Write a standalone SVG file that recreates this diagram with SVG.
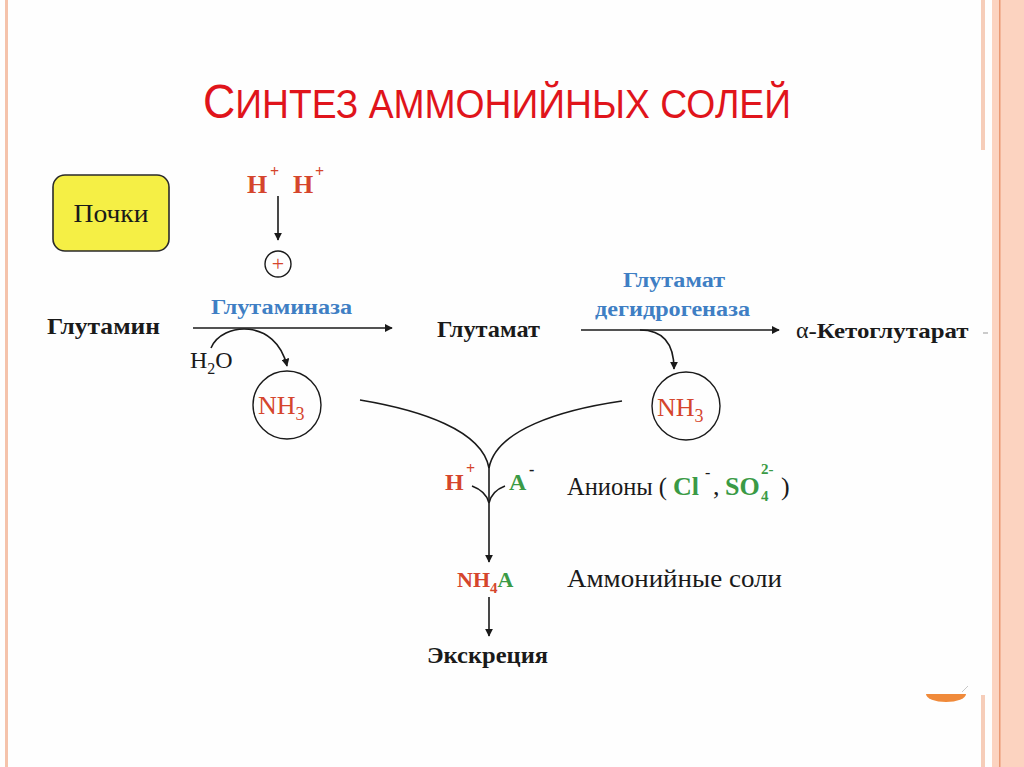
<svg xmlns="http://www.w3.org/2000/svg" width="1024" height="767" viewBox="0 0 1024 767">
<style>
.ser{font-family:"Liberation Serif","DejaVu Serif",serif}
.b{font-weight:bold}
.blk{fill:#1a1a1a}
.red{fill:#d5452c}
.blue{fill:#3f7fc4}
.grn{fill:#3a9a45}
.ln{fill:none;stroke:#1a1a1a;stroke-width:1.6}
</style>
<defs>
<marker id="ah" viewBox="0 0 10 10" refX="9" refY="5" markerWidth="8" markerHeight="8" markerUnits="userSpaceOnUse" orient="auto">
<path d="M0,0 L10,5 L0,10 z" fill="#1a1a1a"/>
</marker>
</defs>
<rect width="1024" height="767" fill="#fefefe"/>
<g id="frame">
<rect x="5" y="0" width="3" height="767" fill="#f5c3ab"/>
<rect x="981" y="0" width="4" height="150" fill="#f6cdb9"/>
<rect x="981" y="695" width="4" height="72" fill="#f6cdb9"/>
<rect x="992" y="0" width="32" height="767" fill="#fcd3c0"/>
<rect x="999" y="0" width="1.5" height="767" fill="#e99873"/>
<path d="M926,694 L966,694 A20,8 0 0 1 926,694 z" fill="#f08a3a"/>
<line x1="962" y1="692" x2="968" y2="686" stroke="#c8c8c8" stroke-width="1"/>
</g>
<g id="title">
<text x="203" y="118" textLength="588" lengthAdjust="spacingAndGlyphs" font-family="Liberation Sans, Arial, sans-serif" fill="#e0141b"><tspan font-size="48">С</tspan><tspan font-size="40">ИНТЕЗ АММОНИЙНЫХ СОЛЕЙ</tspan></text>
</g>
<g id="pochki">
<rect x="53" y="175" width="116" height="76" rx="12" fill="#f5ef45" stroke="#2a2a2a" stroke-width="1.6"/>
<text x="111" y="222" text-anchor="middle" class="ser blk" font-size="26" textLength="75" lengthAdjust="spacingAndGlyphs">Почки</text>
</g>
<g id="hplus">
<text class="ser b red" font-size="26"><tspan x="247" y="193">H</tspan><tspan x="270" y="177" font-size="16">+</tspan><tspan x="293" y="193">H</tspan><tspan x="315" y="177" font-size="16">+</tspan></text>
</g>
<g id="activator">
<circle cx="278" cy="264" r="13" fill="none" stroke="#1a1a1a" stroke-width="1.4"/>
<text x="278" y="271" text-anchor="middle" class="ser red" font-size="22">+</text>
</g>
<g id="glutamin"><text x="47" y="334" class="ser b blk" font-size="23" textLength="113" lengthAdjust="spacingAndGlyphs">Глутамин</text></g>
<g id="glutaminaza"><text x="211" y="314" class="ser b blue" font-size="20" textLength="141" lengthAdjust="spacingAndGlyphs">Глутаминаза</text></g>
<g id="h2o"><text x="190" y="368" class="ser blk" font-size="24">H<tspan dy="6" font-size="16">2</tspan><tspan dy="-6">O</tspan></text></g>
<g id="nh3-left">
<circle cx="287" cy="405" r="34" fill="none" stroke="#1a1a1a" stroke-width="1.4"/>
<text x="258" y="414" class="ser red" font-size="26">NH<tspan dy="6" font-size="18">3</tspan></text>
</g>
<g id="glutamat"><text x="437" y="337" class="ser b blk" font-size="23" textLength="103" lengthAdjust="spacingAndGlyphs">Глутамат</text></g>
<g id="gdh">
<text x="623" y="287" class="ser b blue" font-size="20" textLength="102" lengthAdjust="spacingAndGlyphs">Глутамат</text>
<text x="595" y="316" class="ser b blue" font-size="20" textLength="155" lengthAdjust="spacingAndGlyphs">дегидрогеназа</text>
</g>
<g id="nh3-right">
<circle cx="686" cy="406" r="34" fill="none" stroke="#1a1a1a" stroke-width="1.4"/>
<text x="657" y="416" class="ser red" font-size="26">NH<tspan dy="6" font-size="18">3</tspan></text>
</g>
<g id="ketoglutarat">
<text x="796" y="338" class="ser blk" font-size="24">α<tspan class="b" font-size="22" textLength="160" lengthAdjust="spacingAndGlyphs">-Кетоглутарат</tspan></text>
<line x1="983" y1="333" x2="988" y2="333" stroke="#999" stroke-width="1"/>
</g>
<g id="hplus2"><text class="ser b red" font-size="24"><tspan x="445" y="490">H</tspan><tspan x="466" y="474" font-size="16">+</tspan></text></g>
<g id="aminus"><text class="ser b" font-size="24"><tspan x="509" y="490" class="grn">A</tspan><tspan x="529" y="475" font-size="16" class="blk">-</tspan></text></g>
<g id="aniony"><text class="ser blk" font-size="26"><tspan x="567" y="495" textLength="100" lengthAdjust="spacingAndGlyphs">Анионы (</tspan><tspan x="673" y="495" class="b grn">Cl</tspan><tspan x="705" y="478" font-size="16">-</tspan><tspan x="713" y="495">,</tspan><tspan x="725" y="495" class="b grn">SO</tspan><tspan x="761" y="501" class="b grn" font-size="15">4</tspan><tspan x="761" y="474" class="b grn" font-size="15">2-</tspan><tspan x="781" y="495">)</tspan></text></g>
<g id="nh4a"><text x="457" y="587" class="ser b" font-size="22"><tspan class="red">NH</tspan><tspan class="red" font-size="15" dy="6">4</tspan><tspan class="grn" dy="-6">A</tspan></text></g>
<g id="ammsoli"><text x="567" y="587" class="ser blk" font-size="26" textLength="215" lengthAdjust="spacingAndGlyphs">Аммонийные соли</text></g>
<g id="ekskreciya"><text x="427" y="663" class="ser b blk" font-size="23" textLength="121" lengthAdjust="spacingAndGlyphs">Экскреция</text></g>
<g id="connectors">
<line class="ln" x1="278" y1="196" x2="278" y2="240" marker-end="url(#ah)"/>
<line class="ln" x1="193" y1="328" x2="392" y2="328" marker-end="url(#ah)"/>
<path class="ln" d="M211,348 C222,322 276,318 287,366" marker-end="url(#ah)"/>
<line class="ln" x1="581" y1="330" x2="779" y2="330" marker-end="url(#ah)"/>
<path class="ln" d="M640,330 C660,330 674,340 674,369" marker-end="url(#ah)"/>
<path class="ln" d="M360,400 C420,410 482,430 489,468"/>
<path class="ln" d="M622,401 C560,410 496,430 489,468"/>
<path class="ln" d="M472,486 C480,489 487,494 489,503"/>
<path class="ln" d="M505,486 C497,489 491,494 489,503"/>
<line class="ln" x1="489" y1="465" x2="489" y2="562" marker-end="url(#ah)"/>
<line class="ln" x1="489" y1="597" x2="489" y2="636" marker-end="url(#ah)"/>
</g>
</svg>
